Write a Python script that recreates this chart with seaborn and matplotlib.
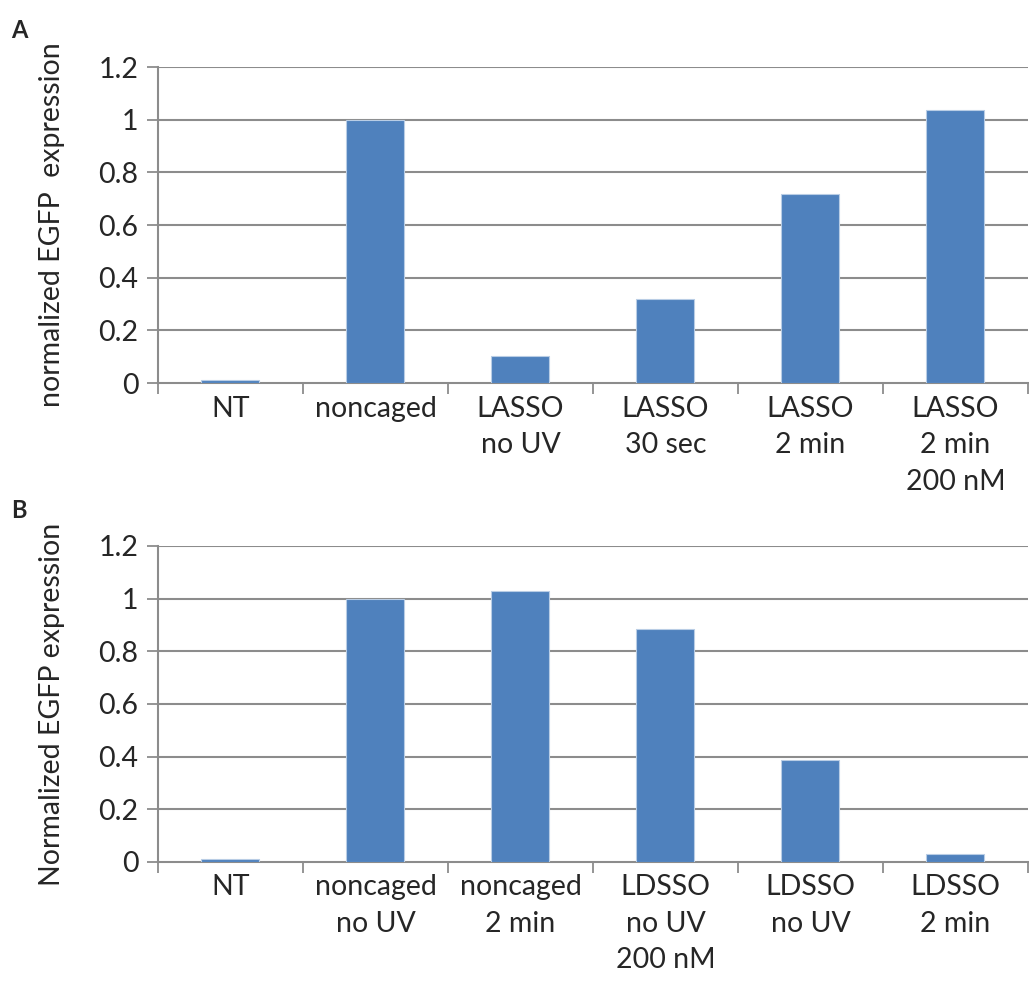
import numpy as np
import pandas as pd
import seaborn as sns
import matplotlib.pyplot as plt

# Panel A data
cats_a = ["NT", "noncaged", "LASSO\nno UV", "LASSO\n30 sec", "LASSO\n2 min", "LASSO\n2 min\n200 nM"]
vals_a = [0.01, 1.0, 0.104, 0.32, 0.717, 1.038]

# Panel B data
cats_b = ["NT", "noncaged\nno UV", "noncaged\n2 min", "LDSSO\nno UV\n200 nM", "LDSSO\nno UV", "LDSSO\n2 min"]
vals_b = [0.01, 1.0, 1.029, 0.886, 0.387, 0.03]

yticks = [0, 0.2, 0.4, 0.6, 0.8, 1.0, 1.2]
ytick_labels = ["0", "0.2", "0.4", "0.6", "0.8", "1", "1.2"]

sns.set_style("white")
plt.rcParams['font.family'] = ['Lato', 'DejaVu Sans']

fig = plt.figure(figsize=(10.29, 9.9), dpi=100)
ax_a = fig.add_axes([0.1535, 0.6131, 0.8455, 0.3192])
ax_b = fig.add_axes([0.1535, 0.1293, 0.8455, 0.3192])

bar_color = "#4F81BD"
grid_color = "#8C8C8C"
fs = 20.5


def draw_panel(ax, cats, vals, ylabel):
    df = pd.DataFrame({"cat": cats, "val": vals})
    sns.barplot(data=df, x="cat", y="val", ax=ax, color=bar_color, width=0.4,
                saturation=1, edgecolor="#B9CDE5", linewidth=0.8, zorder=3)
    ax.set_ylim(0, 1.2)
    ax.set_xlim(-0.5, len(cats) - 0.5)
    ax.set_yticks(yticks)
    ax.set_yticklabels(ytick_labels, fontsize=fs)
    for y in yticks[1:]:
        ax.axhline(y, color=grid_color, lw=1.5, zorder=1)
    ax.set_xticks(range(len(cats)))
    ax.set_xticklabels(cats, fontsize=fs, linespacing=1.5)
    ax.set_xticks(np.arange(-0.5, len(cats)), minor=True)
    ax.tick_params(axis="x", which="major", length=0, pad=9)
    ax.tick_params(axis="x", which="minor", length=8, width=1.3, color=grid_color,
                   direction="out", bottom=True)
    ax.tick_params(axis="y", length=8, width=1.3, color=grid_color,
                   direction="out", left=True, pad=6)
    for s in ["top", "right"]:
        ax.spines[s].set_visible(False)
    for s in ["left", "bottom"]:
        ax.spines[s].set_color(grid_color)
        ax.spines[s].set_linewidth(1.5)
    ax.set_xlabel("")
    ax.set_ylabel(ylabel, fontsize=fs, labelpad=24)


draw_panel(ax_a, cats_a, vals_a, "normalized EGFP  expression")
draw_panel(ax_b, cats_b, vals_b, "Normalized EGFP expression")

fig.text(0.011, 0.962, "A", fontsize=17, fontweight="bold")
fig.text(0.011, 0.477, "B", fontsize=17, fontweight="bold")

fig.savefig("out.png", dpi=100, facecolor="white")
